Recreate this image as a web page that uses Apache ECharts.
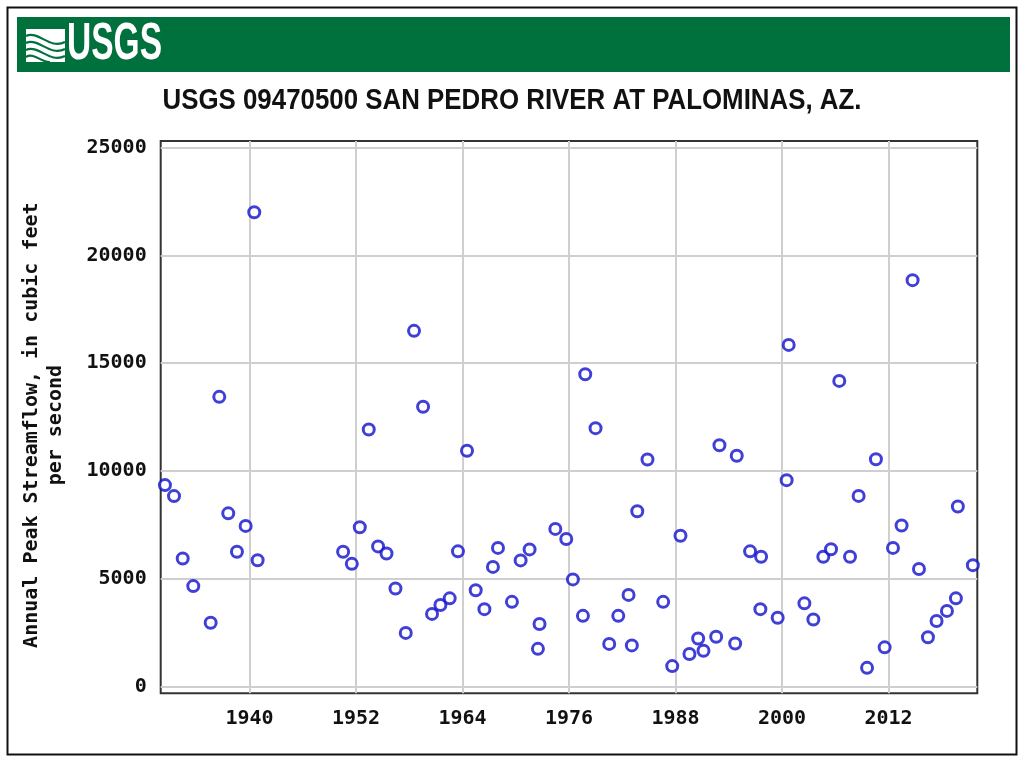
<!DOCTYPE html>
<html><head><meta charset="utf-8">
<script src="https://cdn.jsdelivr.net/npm/echarts@6/dist/echarts.min.js"></script>
<style>html,body{margin:0;padding:0;background:#fff}#c{width:1024px;height:763px}</style>
</head><body><div id="c"></div>
<script>
// Peak date (decimal year) and annual peak streamflow (cfs)
const years = [1930.48,1931.50,1932.48,1933.67,1935.63,1936.60,1937.61,1938.59,1939.57,1940.54,1940.92,
  1950.55,1951.53,1952.43,1953.44,1954.49,1955.44,1956.45,1957.61,1958.54,1959.56,
  1960.57,1961.51,1962.56,1963.49,1964.51,1965.49,1966.47,1967.43,1968.00,1969.57,
  1970.55,1971.56,1972.50,1972.68,1974.46,1975.69,1976.44,1977.57,1977.83,1978.99,
  1980.53,1981.55,1982.71,1983.08,1983.69,1984.84,1986.61,1987.63,1988.56,1989.57,
  1990.55,1991.15,1992.58,1992.95,1994.72,1994.90,1996.40,1997.56,1997.64,1999.51,
  2000.52,2000.75,2002.52,2003.53,2004.65,2005.52,2006.45,2007.66,2008.63,2009.58,
  2010.58,2011.56,2012.50,2013.47,2014.71,2015.43,2016.44,2017.41,2018.58,2019.59,2019.81,2021.50];
const peaks = [9350,8840,5950,4670,2970,13440,8040,6260,7460,22000,5870,
  6260,5700,7400,11930,6510,6180,4560,2500,16500,12980,
  3380,3790,4100,6280,10940,4480,3600,5560,6440,3940,
  5860,6370,1760,2910,7320,6850,4980,3290,14490,11990,
  1990,3290,4260,1920,8140,10540,3940,960,7000,1520,
  2240,1670,2320,11200,2010,10710,6280,3600,6030,3200,
  9580,15850,3870,3120,6030,6380,14180,6030,8850,880,
  10550,1830,6440,7480,18850,5460,2300,3050,3520,4100,8360,5640];
const xTicks = [1940,1952,1964,1976,1988,2000,2012];
const yTicks = [0,5000,10000,15000,20000,25000];
const titleText = 'USGS 09470500 SAN PEDRO RIVER AT PALOMINAS, AZ.';
const yName = 'Annual Peak Streamflow, in cubic feet\nper second';

function fitScale(text, font, targetW){
  const ctx = document.createElement('canvas').getContext('2d');
  ctx.font = font;
  return targetW / ctx.measureText(text).width;
}
const titleFont = 'bold 29px "Liberation Sans", Arial, sans-serif';
const titleScale = fitScale(titleText, titleFont, 699);
const logoFont = 'bold 51px "Liberation Sans", Arial, sans-serif';
const logoScale = fitScale('USGS', logoFont, 95);

const mono = '"DejaVu Sans Mono", "Liberation Mono", monospace';
const plain = v => String(v);
const chart = echarts.init(document.getElementById('c'), null, {renderer:'canvas'});
chart.setOption({
  animation:false,
  backgroundColor:'#fff',
  grid:{left:160.7, right:46.7, top:141, bottom:69.7, show:true, borderColor:'#333', borderWidth:2, backgroundColor:'transparent'},
  xAxis:{type:'value', min:1930, max:2022,
    axisLine:{show:false},
    axisTick:{show:false, customValues:xTicks},
    axisLabel:{customValues:xTicks, formatter:plain, fontFamily:mono, fontWeight:'bold', fontSize:20, color:'#111', margin:15},
    splitLine:{show:true, lineStyle:{color:'#cfcfcf', width:2}}
  },
  yAxis:{type:'value', min:-300, max:25300,
    axisLine:{show:false},
    axisTick:{show:false, customValues:yTicks},
    axisLabel:{customValues:yTicks, formatter:plain, fontFamily:mono, fontWeight:'bold', fontSize:20, color:'#111', margin:14},
    splitLine:{show:true, lineStyle:{color:'#cfcfcf', width:2}},
    name:yName, nameLocation:'middle', nameRotate:90, nameGap:93,
    nameTextStyle:{fontFamily:mono, fontWeight:'bold', fontSize:20, color:'#111', lineHeight:24, align:'center', padding:[0,16,0,0]}
  },
  series:[{type:'scatter', clip:false, symbol:'circle', symbolSize:11,
    itemStyle:{color:'#ffffff', borderColor:'#1010cc', borderWidth:3},
    data: years.map((y,i)=>[y, peaks[i]])}],
  graphic:[
    {type:'rect', shape:{x:7.5,y:7.5,width:1009,height:747}, style:{fill:'none', stroke:'#111', lineWidth:2}, silent:true},
    {type:'rect', shape:{x:17,y:17,width:993,height:55}, style:{fill:'#00703c'}, silent:true},
    {type:'rect', shape:{x:26,y:29,width:39,height:33}, style:{fill:'#fff'}, silent:true},
    {type:'group', silent:true, children:[
      {type:'bezierCurve', shape:{x1:26,y1:36,x2:65,y2:42,cpx1:38,cpy1:30,cpx2:50,cpy2:50}, style:{stroke:'#00703c', lineWidth:2.2, fill:'none'}},
      {type:'bezierCurve', shape:{x1:26,y1:43,x2:65,y2:49,cpx1:38,cpy1:37,cpx2:50,cpy2:57}, style:{stroke:'#00703c', lineWidth:2.2, fill:'none'}},
      {type:'bezierCurve', shape:{x1:26,y1:50,x2:65,y2:56,cpx1:38,cpy1:44,cpx2:50,cpy2:64}, style:{stroke:'#00703c', lineWidth:2.2, fill:'none'}},
      {type:'bezierCurve', shape:{x1:26,y1:57,x2:50,y2:62,cpx1:34,cpy1:52,cpx2:42,cpy2:63}, style:{stroke:'#00703c', lineWidth:2.2, fill:'none'}}
    ]},
    {type:'text', x:67, y:45, scaleX:logoScale, silent:true,
      style:{text:'USGS', font:logoFont, fill:'#fff', textAlign:'left', textVerticalAlign:'middle'}},
    {type:'text', x:512, y:101, scaleX:titleScale, silent:true,
      style:{text:titleText, font:titleFont, fill:'#111', textAlign:'center', textVerticalAlign:'middle'}}
  ]
});
</script></body></html>
